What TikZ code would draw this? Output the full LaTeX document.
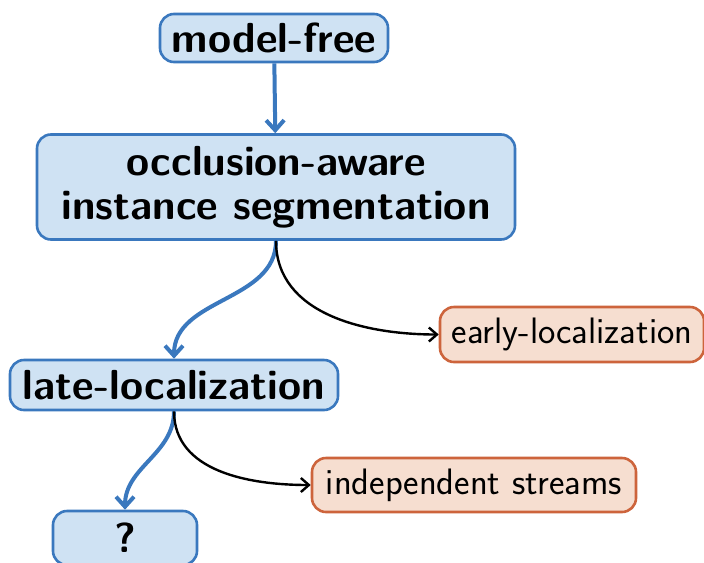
\documentclass[tikz,border=0pt]{standalone}
\usetikzlibrary{arrows.meta}
\definecolor{cblue}{RGB}{58,120,190}
\definecolor{cbluefill}{RGB}{207,226,243}
\definecolor{corange}{RGB}{205,100,60}
\definecolor{corangefill}{RGB}{246,222,208}
\tikzset{
  every picture/.style={font=\sffamily},
  box/.style={draw=cblue, fill=cbluefill, line width=1.3pt, rounded corners=7pt, align=center,
    inner sep=2pt, font=\sffamily\bfseries\fontsize{21}{22}\selectfont},
  altbox/.style={draw=corange, fill=corangefill, line width=1.3pt, rounded corners=7pt, align=center,
    inner sep=2pt, font=\sffamily\fontsize{18.4}{20}\selectfont},
  main/.style={-{Straight Barb[length=5pt, width=9pt]}, draw=cblue, line width=2pt},
  side/.style={-{Straight Barb[length=4pt, width=7pt]}, draw=black, line width=1.2pt},
}
\begin{document}
\begin{tikzpicture}[x=0.5pt, y=-0.5pt]
  \useasboundingbox (0,0) rectangle (704,562);
  \node[box, minimum width=114pt, minimum height=24pt] (free) at (274,38) {model-free};
  \node[box, minimum width=239pt, minimum height=52.5pt] (occl) at (276,187) {occlusion-aware\\instance segmentation};
  \node[altbox, minimum width=132pt, minimum height=27.5pt] (early) at (572,334.5) {early-localization};
  \node[box, minimum width=164pt, minimum height=25pt] (late) at (174,385) {late-localization};
  \node[altbox, minimum width=162pt, minimum height=27pt] (indep) at (474,485) {independent streams};
  \node[box, minimum width=72pt, minimum height=27pt] (open) at (125,538) {?};
  % chosen path
  \draw[main] (free) -- (occl);
  \draw[main] (occl.south) to[out=-90, in=90] (late.north);
  \draw[main] (late.south) to[out=-90, in=90] (open.north);
  % alternatives
  \draw[side] (occl.south) to[out=-90, in=180] (early.west);
  \draw[side] (late.south) to[out=-90, in=180] (indep.west);
\end{tikzpicture}
\end{document}
